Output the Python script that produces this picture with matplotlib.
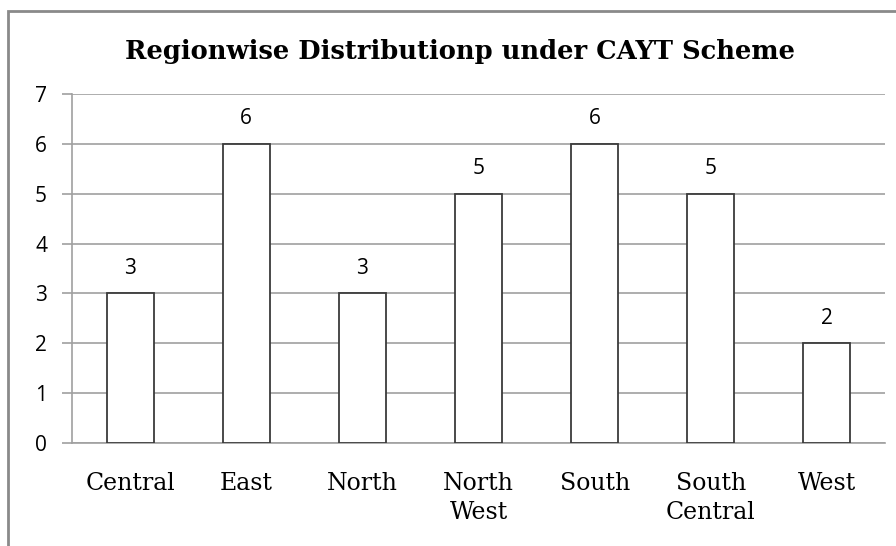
import matplotlib.pyplot as plt
from matplotlib.patches import Rectangle

regions = ["Central", "East", "North", "North\nWest", "South", "South\nCentral", "West"]
counts = [3, 6, 3, 5, 6, 5, 2]
yticks = [0, 1, 2, 3, 4, 5, 6, 7]

fig = plt.figure(figsize=(8.96, 5.46), dpi=100)
ax = fig.add_axes([72/896, 1-443/546, (885-72)/896, (443-94)/546])

x = range(len(regions))
bars = ax.bar(x, counts, width=0.405, color="white", edgecolor="#3a3a3a", linewidth=1.3, zorder=3)

ax.set_xlim(-0.5, len(regions)-0.5)
ax.set_ylim(0, 7)
ax.set_yticks(yticks)
ax.yaxis.grid(True, color="#a0a0a0", linewidth=1.2, zorder=0)
ax.set_axisbelow(True)

for s in ["top", "right"]:
    ax.spines[s].set_visible(False)
for s in ["left", "bottom"]:
    ax.spines[s].set_color("#a0a0a0")
    ax.spines[s].set_linewidth(1.2)

ax.tick_params(axis="y", length=7, width=1.2, color="#a0a0a0", pad=11, labelsize=15)
ax.tick_params(axis="x", length=0, pad=21)
for lab in ax.get_yticklabels():
    lab.set_family("Open Sans")
ax.set_xticks(list(x))
ax.set_xticklabels(regions, family="DejaVu Serif", fontsize=17, linespacing=1.3)

for xi, v in zip(x, counts):
    ax.annotate(str(v), (xi, v), xytext=(0, 25), textcoords="offset pixels",
                ha="center", va="center", fontsize=15, family="Open Sans")

fig.text(460/896, 1-52/546, "Regionwise Distributionp under CAYT Scheme",
         ha="center", va="center", fontsize=18.5, fontweight="bold", family="DejaVu Serif")

# outer chart frame (right and bottom edges fall outside the picture)
fig.patches.append(Rectangle((8/896, -0.05), 1.2, 1-11/546+0.05, transform=fig.transFigure,
                             fill=False, edgecolor="#8a8a8a", linewidth=2, figure=fig))

fig.savefig("out.png", dpi=100)
